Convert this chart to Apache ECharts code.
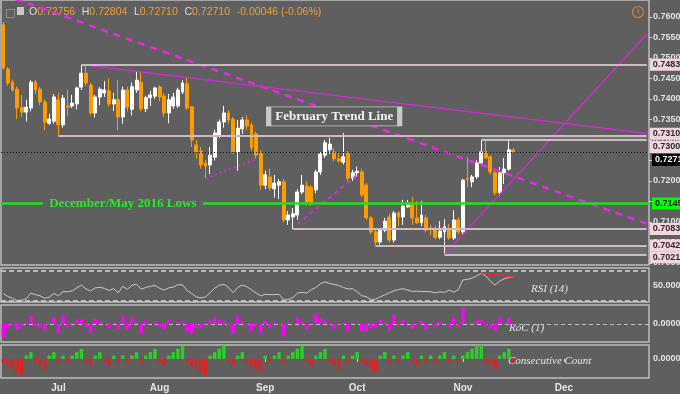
<!DOCTYPE html>
<html><head><meta charset="utf-8">
<script src="https://cdn.jsdelivr.net/npm/echarts@6/dist/echarts.min.js"></script>
<style>html,body{margin:0;padding:0;background:#5f5f5f;}#c{width:680px;height:394px;}</style>
</head><body><div id="c"></div>
<script>
// ---------- DATA ----------
const dates = [
'2018-06-14','2018-06-15','2018-06-18','2018-06-19','2018-06-20','2018-06-21','2018-06-22','2018-06-25','2018-06-26','2018-06-27','2018-06-28','2018-06-29',
'2018-07-02','2018-07-03','2018-07-04','2018-07-05','2018-07-06','2018-07-09','2018-07-10','2018-07-11','2018-07-12','2018-07-13','2018-07-16','2018-07-17','2018-07-18','2018-07-19','2018-07-20','2018-07-23','2018-07-24','2018-07-25','2018-07-26','2018-07-27','2018-07-30','2018-07-31',
'2018-08-01','2018-08-02','2018-08-03','2018-08-06','2018-08-07','2018-08-08','2018-08-09','2018-08-10','2018-08-13','2018-08-14','2018-08-15','2018-08-16','2018-08-17','2018-08-20','2018-08-21','2018-08-22','2018-08-23','2018-08-24','2018-08-27','2018-08-28','2018-08-29','2018-08-30','2018-08-31',
'2018-09-03','2018-09-04','2018-09-05','2018-09-06','2018-09-07','2018-09-10','2018-09-11','2018-09-12','2018-09-13','2018-09-14','2018-09-17','2018-09-18','2018-09-19','2018-09-20','2018-09-21','2018-09-24','2018-09-25','2018-09-26','2018-09-27','2018-09-28',
'2018-10-01','2018-10-02','2018-10-03','2018-10-04','2018-10-05','2018-10-08','2018-10-09','2018-10-10','2018-10-11','2018-10-12','2018-10-15','2018-10-16','2018-10-17','2018-10-18','2018-10-19','2018-10-22','2018-10-23','2018-10-24','2018-10-25','2018-10-26','2018-10-29','2018-10-30','2018-10-31',
'2018-11-01','2018-11-02','2018-11-05','2018-11-06','2018-11-07','2018-11-08','2018-11-09','2018-11-12','2018-11-13','2018-11-14','2018-11-15','2018-11-16','2018-11-19','2018-11-20','2018-11-21','2018-11-22','2018-11-23','2018-11-26','2018-11-27','2018-11-28','2018-11-29','2018-11-30',
'2018-12-03','2018-12-04','2018-12-05','2018-12-06','2018-12-07','2018-12-10','2018-12-11','2018-12-12','2018-12-13','2018-12-14','2018-12-17','2018-12-18','2018-12-19','2018-12-20','2018-12-21','2018-12-24','2018-12-25','2018-12-26','2018-12-27'
];
const openP = [
0.7581,0.7473,0.7441,0.7424,0.7380,0.7368,0.7378,0.7441,0.7424,0.7393,
0.7341,0.7346,0.7398,0.7337,0.7383,0.7383,0.7388,0.7429,0.7463,0.7434,
0.7366,0.7405,0.7415,0.7420,0.7388,0.7398,0.7356,0.7422,0.7375,0.7422,
0.7441,0.7376,0.7403,0.7407,0.7429,0.7407,0.7366,0.7383,0.7383,0.7417,
0.7437,0.7381,0.7288,0.7273,0.7244,0.7239,0.7258,0.7312,0.7344,0.7366,
0.7351,0.7271,0.7327,0.7349,0.7337,0.7315,0.7268,0.7190,0.7210,0.7181,
0.7190,0.7198,0.7105,0.7112,0.7117,0.7173,0.7188,0.7185,0.7178,0.7222,
0.7263,0.7276,0.7271,0.7254,0.7246,0.7268,0.7207,0.7220,0.7222,0.7190,
0.7110,0.7076,0.7051,0.7080,0.7112,0.7056,0.7122,0.7112,0.7137,0.7146,
0.7110,0.7098,0.7110,0.7085,0.7085,0.7063,0.7076,0.7080,0.7061,0.7105,
0.7076,0.7206,0.7198,0.7210,0.7244,0.7271,0.7259,0.7220,0.7171,0.7220,
0.7229,0.72756];
const closeP = [
0.7476,0.7439,0.7422,0.7378,0.7368,0.7380,0.7441,0.7422,0.7393,0.7344,
0.7351,0.7405,0.7337,0.7402,0.7380,0.7390,0.7427,0.7463,0.7439,0.7366,
0.7405,0.7424,0.7422,0.7388,0.7398,0.7356,0.7422,0.7380,0.7430,0.7446,
0.7376,0.7403,0.7410,0.7427,0.7405,0.7366,0.7398,0.7405,0.7422,0.7439,
0.7378,0.7300,0.7271,0.7239,0.7236,0.7263,0.7317,0.7344,0.7366,0.7349,
0.7271,0.7329,0.7349,0.7334,0.7281,0.7263,0.7190,0.7215,0.7183,0.7195,
0.7198,0.7105,0.7117,0.7120,0.7173,0.7190,0.7149,0.7147,0.7222,0.7266,
0.7293,0.7290,0.7254,0.7249,0.7259,0.7207,0.7220,0.7224,0.7166,0.7110,
0.7076,0.7051,0.7080,0.7102,0.7056,0.7122,0.7112,0.7139,0.7146,0.7110,
0.7098,0.7117,0.7080,0.7083,0.7063,0.7078,0.7088,0.7061,0.7105,0.7076,
0.7202,0.7204,0.7210,0.7244,0.7271,0.7256,0.7222,0.7171,0.7220,0.7229,
0.7276,0.72710];
const lowP = [
0.7471,0.7432,0.7417,0.7351,0.7356,0.7345,0.7370,0.7412,0.7385,0.7324,
0.7337,0.7340,0.73106,0.7330,0.7358,0.7378,0.7375,0.7422,0.7432,0.7360,
0.7355,0.7385,0.7405,0.7381,0.7371,0.7324,0.7340,0.7370,0.7360,0.7415,
0.7370,0.7368,0.7383,0.7400,0.7395,0.7356,0.7341,0.7376,0.7378,0.7412,
0.7373,0.7283,0.7254,0.7230,0.7207,0.7217,0.7250,0.7305,0.7330,0.7340,
0.7266,0.7225,0.7315,0.7325,0.7273,0.7255,0.7178,0.7180,0.7176,0.7159,
0.7156,0.7100,0.7093,0.7083,0.7105,0.7168,0.7140,0.7139,0.7170,0.7215,
0.7256,0.7266,0.7248,0.7244,0.7240,0.7200,0.7200,0.7210,0.7160,0.7105,
0.7070,0.70425,0.7045,0.7075,0.7050,0.7050,0.7090,0.7093,0.7134,0.7093,
0.7095,0.7090,0.7075,0.7068,0.7058,0.7058,0.70211,0.7056,0.7056,0.7070,
0.7070,0.7185,0.7185,0.7205,0.7239,0.7254,0.7215,0.7165,0.7164,0.7193,
0.7225,0.72710];
const highP = [
0.7588,0.7478,0.7448,0.7430,0.7410,0.7398,0.7446,0.7446,0.7429,0.7400,
0.7364,0.7412,0.7415,0.7410,0.7423,0.7410,0.7430,0.74837,0.7482,0.7440,
0.7410,0.7429,0.7444,0.7451,0.7415,0.7446,0.7430,0.7430,0.7440,0.7466,
0.7466,0.7408,0.7420,0.7430,0.7434,0.7415,0.7412,0.7415,0.7427,0.7446,
0.7454,0.7383,0.7300,0.7283,0.7251,0.7283,0.7325,0.7350,0.7383,0.7373,
0.7356,0.7349,0.7356,0.7360,0.7342,0.7320,0.7275,0.7225,0.7230,0.7215,
0.7205,0.7205,0.7127,0.7134,0.7180,0.7215,0.7200,0.7190,0.7227,0.7271,
0.7300,0.7305,0.7280,0.7268,0.7317,0.7273,0.7227,0.7235,0.7230,0.7195,
0.7115,0.7083,0.7085,0.7110,0.7120,0.7127,0.7127,0.7154,0.7154,0.7161,
0.7151,0.7151,0.7117,0.7093,0.7090,0.7102,0.7107,0.7095,0.7129,0.7112,
0.7205,0.7259,0.7215,0.7251,0.7300,0.7300,0.7263,0.7225,0.7234,0.7256,
0.7300,0.72804];
const rsi = [
40,36,33.6,30.6,31,33,40.5,38.5,37,33.6,
35,40,37,42.4,42.4,43.5,47.5,51.3,46,43.5,
47.5,48.2,46.9,44,46.5,41,49.5,45.6,51,52.5,
45.6,48,49.6,50.7,47,44.5,47.5,48.5,51.8,51.5,
44,40,35.5,34,35.5,41,47,51,52.3,48,
41,48,51.3,49.1,45,40.5,36.9,38.8,38.5,38.5,
38.9,31.5,32,34.5,40.5,41.5,40.5,45,48,53,
55.5,53.5,52,50.8,48,46,46.5,42.4,37,35.8,
31.5,32.5,35.5,38,41,43.6,45.3,46.5,44.5,42.8,
43.2,42.8,42.5,42.5,40.8,42.1,41.5,44.5,41.8,45,
58,58.9,60.4,63.5,67,63.3,56.5,51.3,56.5,59.5,
61.5,62.4];
const roc = [
-1.40,-0.49,-0.23,-0.59,-0.14,0.16,0.83,-0.26,-0.39,-0.66,
0.10,0.73,-0.92,0.89,-0.30,0.14,0.50,0.48,-0.32,-0.98,
0.53,0.26,-0.03,-0.46,0.14,-0.57,0.90,-0.57,0.68,0.22,
-0.94,0.37,0.09,0.23,-0.30,-0.53,0.43,0.09,0.23,0.23,
-0.82,-1.06,-0.40,-0.44,-0.04,0.37,0.74,0.37,0.30,-0.23,
-1.06,0.80,0.27,-0.20,-0.72,-0.25,-1.01,0.35,-0.44,0.17,
0.04,-1.29,0.17,0.04,0.74,0.24,-0.57,-0.03,1.05,0.61,
0.37,-0.04,-0.49,-0.07,0.14,-0.72,0.18,0.06,-0.80,-0.78,
-0.48,-0.35,0.41,0.31,-0.65,0.94,-0.14,0.38,0.10,-0.50,
-0.17,0.27,-0.52,0.04,-0.28,0.21,0.14,-0.38,0.62,-0.41,
1.78,0.03,0.08,0.47,0.37,-0.21,-0.47,-0.71,0.68,0.12,
0.65,-0.07];
const consec = [
-1,-2,-3,-4,-5,1,2,-1,-2,-3,
1,2,-1,1,-1,1,2,3,-1,-2,
1,2,-1,-2,1,-1,1,-1,1,2,
-1,1,2,3,-1,-2,1,2,3,4,
-1,-2,-3,-4,-5,1,2,3,4,-1,
-2,1,2,-1,-2,-3,-4,1,-1,1,
2,-1,1,2,3,4,-1,-2,1,2,
3,-1,-2,-3,1,-1,1,2,-1,-2,
-3,-4,1,2,-1,1,-1,1,2,-1,
-2,1,-1,1,-1,1,2,-1,1,-1,
1,2,3,4,5,-1,-2,-3,1,2,
3,-1];
const monthTicks = [[12,'Jul'],[34,'Aug'],[57,'Sep'],[77,'Oct'],[100,'Nov'],[122,'Dec']];
const levelPrices = [0.74837, 0.73106, 0.73000, 0.70830, 0.70425, 0.70211];
const levelStart  = [17, 12, 104, 63, 81, 96];
const supportLevel = 0.71452;
const lastPrice = 0.72710;
const bandsFrom = [[104, 0.73106], [96, 0.70425]];
const bandsTo   = [[140, 0.73000], [140, 0.70211]];
const trendFrom = [[0, 0.76547], [17, 0.74837], [96, 0.70211], [44, 0.72066], [64, 0.7095]];
const trendTo   = [[140, 0.70958], [140, 0.7316], [140, 0.7558], [55, 0.72529], [77, 0.7215]];
const rsiLineFrom = [104, 67];
const rsiLineTo = [111, 62.4];
const notes = [['February Trend Line', 72, 0.73574], ['December/May 2016 Lows', 26, 0.71452]];
const header = {o:'0.72756', h:'0.72804', l:'0.72710', c:'0.72710', chg:'-0.00046 (-0.06%)'};

// ---------- CHART ----------
const BG = '#5f5f5f';
const FONT = 'Liberation Sans';
const chart = echarts.init(document.getElementById('c'));
const candles = openP.map((o, i) => [o, closeP[i], lowP[i], highP[i]]);
const monthMap = {}; monthTicks.forEach(([i, t]) => monthMap[dates[i]] = t);
const L = dates.length - 1;

const gridBase = {left: 1, right: 31, show: true, borderColor: '#bdbdbd', borderWidth: 1.5, outerBoundsMode: 'none', containLabel: false};
const grids = [
  Object.assign({top: 0, height: 265}, gridBase),
  Object.assign({top: 268, height: 34}, gridBase),
  Object.assign({top: 305, height: 37}, gridBase),
  Object.assign({top: 345, height: 33}, gridBase)
];
function xAx(g, bottom) {
  return {
    type: 'category', gridIndex: g, data: dates, boundaryGap: true,
    axisLine: {show: false}, splitLine: {show: false},
    axisTick: {show: !!bottom, alignWithLabel: true, length: 3, lineStyle: {color: '#d0d0d0', width: 1}},
    axisLabel: {show: !!bottom, interval: (i, v) => monthMap[v] !== undefined, formatter: v => monthMap[v] || '',
      color: '#e6e6e6', fontWeight: 'bold', fontSize: 10, fontFamily: FONT, margin: 5}
  };
}
const lblBase = {color: '#e2e2e2', fontWeight: 'bold', fontSize: 9, fontFamily: FONT, margin: 4, showMinLabel: false, showMaxLabel: false};
function yAx(g, min, max, split, fmt, tick) {
  return {
    type: 'value', gridIndex: g, position: 'right', min: min, max: max, splitNumber: split,
    axisLine: {show: false}, splitLine: {show: false},
    axisTick: {show: tick, length: 3, lineStyle: {color: '#d0d0d0'}},
    axisLabel: Object.assign({formatter: fmt}, lblBase)
  };
}
const tag = (bg, fg) => ({show: true, position: 'end', distance: 3, fontSize: 9, fontWeight: 'bold', fontFamily: FONT,
  backgroundColor: bg, color: fg, padding: [2, 3, 1, 3]});
const tagOffset = {'0.73106': -2, '0.73000': 7, '0.70211': 3};
const boxLine = {color: '#cbbcc1', width: 2, type: 'solid'};

const markLines = levelPrices.map((p, k) => {
  const lab = tag('#f5d5dd', '#2a2a2a');
  lab.formatter = p.toFixed(5);
  lab.offset = [0, tagOffset[p.toFixed(5)] || 0];
  return [{coord: [dates[levelStart[k]], p], lineStyle: boxLine, label: lab}, {coord: [dates[L], p]}];
});
markLines.push({yAxis: supportLevel, lineStyle: {color: '#1fe01f', width: 2.5, type: 'solid'},
  label: Object.assign(tag('#00ff00', '#1a1a1a'), {formatter: supportLevel.toFixed(5)})});
markLines.push({yAxis: lastPrice, lineStyle: {color: '#111111', width: 1, type: [1, 2]},
  label: Object.assign(tag('#000000', '#ffffff'), {formatter: lastPrice.toFixed(5), offset: [0, 8]})});

const trendStyles = [
  {color: '#e42ae4', width: 2.5, type: [7, 6]},
  {color: '#d62ad6', width: 1.3, type: 'solid'},
  {color: '#d62ad6', width: 1.3, type: 'solid'},
  {color: '#e42ae4', width: 1.6, type: [2, 3]},
  {color: '#e42ae4', width: 1.6, type: [4, 4]}
];
const trendSeries = trendFrom.map((f, k) => ({
  type: 'line', xAxisIndex: 0, yAxisIndex: 0, symbol: 'none', clip: true, silent: true, z: 3,
  data: [[dates[f[0]], f[1]], [dates[trendTo[k][0]], trendTo[k][1]]],
  lineStyle: trendStyles[k]
}));

const noteStyles = [
  {symbolSize: [131, 19], itemStyle: {color: BG, borderColor: '#c8c8c8', borderWidth: 2}, color: '#f4f4f4'},
  {symbolSize: [160, 14], itemStyle: {color: BG, borderWidth: 0}, color: '#24ec24'}
];
const notePoints = notes.map((n, k) => ({
  coord: [dates[n[1]], n[2]], symbol: 'rect', symbolSize: noteStyles[k].symbolSize, itemStyle: noteStyles[k].itemStyle,
  label: {show: true, position: 'inside', formatter: n[0], color: noteStyles[k].color,
    fontFamily: 'Liberation Serif', fontWeight: 'bold', fontSize: 13}
}));

const option = {
  backgroundColor: BG,
  animation: false,
  grid: grids,
  xAxis: [xAx(0), xAx(1), xAx(2), xAx(3, true)],
  yAxis: [
    yAx(0, 0.69951, 0.76415, 12, v => { const k = v / 0.005; return Math.abs(k - Math.round(k)) < 1e-6 ? v.toFixed(5) : ''; }, true),
    yAx(1, 28.67, 74, 5, v => Math.abs(v - 50) < 1e-9 ? '50.0000' : '', false),
    yAx(2, -1.9, 2.0, 4, v => Math.abs(v) < 1e-9 ? '0.0000' : '', false),
    yAx(3, -5.6, 4.1, 4, v => Math.abs(v) < 1e-9 ? '0.0000' : '', false)
  ],
  series: [
    {
      type: 'candlestick', xAxisIndex: 0, yAxisIndex: 0, data: candles, barWidth: 3.4, z: 2,
      itemStyle: {color: '#ffffff', color0: '#ff9a00', borderColor: '#ffffff', borderColor0: '#ff9a00', borderWidth: 1},
      markArea: {silent: true, z: 1, itemStyle: {color: 'rgba(255,255,255,0.10)'},
        data: bandsFrom.map((b, k) => [{coord: [dates[b[0]], b[1]]}, {coord: [dates[bandsTo[k][0]], bandsTo[k][1]]}])},
      markLine: {silent: true, symbol: 'none', z: 5, precision: 5, data: markLines},
      markPoint: {silent: true, z: 10, data: notePoints}
    },
    ...trendSeries,
    {
      type: 'line', xAxisIndex: 1, yAxisIndex: 1, data: rsi, symbol: 'none', z: 3,
      lineStyle: {color: '#c9c9c9', width: 1},
      markLine: {silent: true, symbol: 'none', precision: 3, label: {show: false}, data: [
        {yAxis: 70, lineStyle: {color: '#d6d6d6', width: 1.5, type: [5, 3]}},
        {yAxis: 30, lineStyle: {color: '#d6d6d6', width: 1.5, type: [5, 3]}},
        [{coord: [dates[rsiLineFrom[0]], rsiLineFrom[1]], lineStyle: {color: '#ff2222', width: 1.5, type: 'solid'}},
         {coord: [dates[rsiLineTo[0]], rsiLineTo[1]]}]
      ]}
    },
    {
      type: 'bar', xAxisIndex: 2, yAxisIndex: 2, data: roc, barWidth: 3.4, itemStyle: {color: '#ff00ff'},
      markLine: {silent: true, symbol: 'none', label: {show: false}, z: 1,
        data: [{yAxis: 0, lineStyle: {color: '#bdbdbd', width: 1.2, type: [4, 3]}}]}
    },
    {
      type: 'bar', xAxisIndex: 3, yAxisIndex: 3, barWidth: 3.4,
      data: consec.map(v => ({value: v, itemStyle: {color: v > 0 ? '#2ad02a' : '#dd2323'}}))
    }
  ],
  graphic: [
    {type: 'rect', left: 4, top: 7, shape: {width: 8, height: 8}, style: {fill: 'none', stroke: '#8c8c8c', lineWidth: 1}},
    {type: 'rect', left: 17, top: 7, shape: {width: 7, height: 8}, style: {fill: '#c9c9c9'}},
    {type: 'text', left: 29, top: 6, style: {
      text: '{k|O}{v|' + header.o + '}  {k|H}{v|' + header.h + '}  {k|L}{v|' + header.l + '}  {k|C}{v|' + header.c + '}  {v|' + header.chg + '}',
      rich: {k: {fill: '#dcdcdc', fontSize: 10.5, fontFamily: FONT}, v: {fill: '#f0a035', fontSize: 10.5, fontFamily: FONT}}}},
    {type: 'circle', shape: {cx: 638, cy: 12, r: 5.5}, style: {fill: 'none', stroke: '#e0803a', lineWidth: 1.2}},
    {type: 'text', x: 638, y: 12, style: {text: '!', fill: '#e0803a', font: 'bold 8px Liberation Sans', align: 'center', verticalAlign: 'middle'}},
    {type: 'text', left: 531, top: 284, style: {text: 'RSI (14)', fill: '#e4e4e4', font: 'italic 11px Liberation Serif'}},
    {type: 'text', left: 509, top: 323, style: {text: 'RoC (1)', fill: '#e4e4e4', font: 'italic 11px Liberation Serif'}},
    {type: 'text', left: 508, top: 356, style: {text: 'Consecutive Count', fill: '#e4e4e4', font: 'italic 11px Liberation Serif'}}
  ]
};
chart.setOption(option);
</script>
</body></html>
